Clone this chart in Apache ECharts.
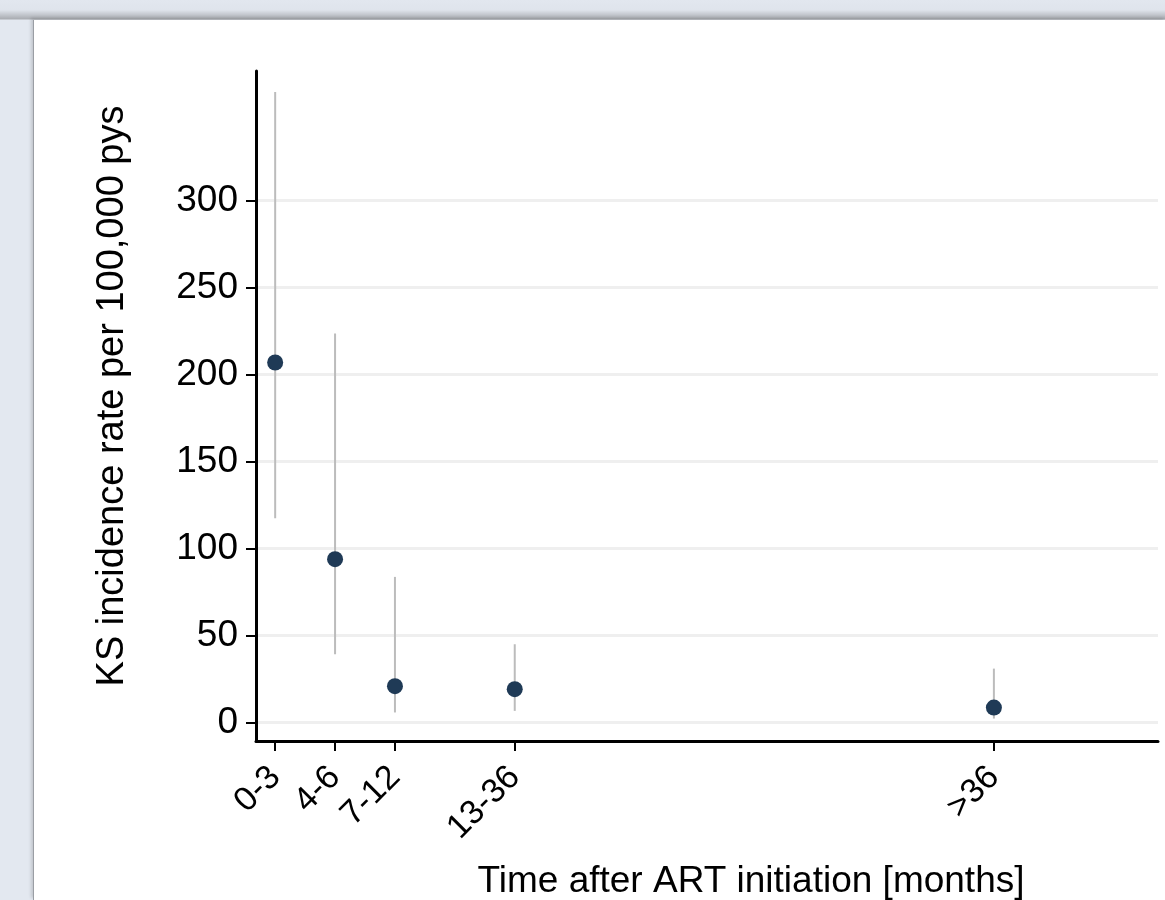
<!DOCTYPE html>
<html>
<head>
<meta charset="utf-8">
<script src="https://cdn.jsdelivr.net/npm/echarts@6/dist/echarts.min.js"></script>
<style>
  html, body { margin: 0; padding: 0; width: 1165px; height: 900px; overflow: hidden; }
  body { background: linear-gradient(to bottom, #e2e7ef 0px, #dfe4ec 10px, #a9acb1 19px, #e3e8f0 20px); }
  #frame { position: absolute; left: 33px; top: 20px; width: 1132px; height: 880px; background: #fff; border-left: 1px solid #9a9ea4; box-shadow: -2px -2px 3px rgba(0,0,0,0.15); }
  #chart { width: 1132px; height: 880px; }
</style>
</head>
<body>
<div id="frame"><div id="chart"></div></div>
<script>
  // periods after ART start and where they sit on the x axis
  var periods = ['0-3', '4-6', '7-12', '13-36', '>36']
  var xPos = [1, 2, 3, 5, 13]
  // KS incidence per 100,000 pys with 95% CI
  var rate = [207, 94, 21, 19.3, 8.7]
  var lower = [117.5, 39.4, 5.9, 6.8, 2.4]
  var upper = [362.5, 223.7, 83.8, 45.1, 31.1]
  var yTicks = [0, 50, 100, 150, 200, 250, 300]

  var font = 'Liberation Sans, Arial, sans-serif'
  var myChart = echarts.init(document.getElementById('chart'))

  var points = []
  var bars = []
  for (var i = 0; i < periods.length; i++) {
    points.push([xPos[i], rate[i]])
    bars.push([xPos[i], lower[i], upper[i]])
  }

  var option = {
    animation: false,
    grid: { left: 222, right: 8, top: 51, bottom: 159, outerBoundsMode: 'none', containLabel: false },
    xAxis: {
      type: 'value',
      min: 0.68,
      max: 15.74,
      name: 'Time after ART initiation [months]',
      nameLocation: 'middle',
      nameGap: 122,
      nameTextStyle: { fontFamily: font, fontSize: 37, color: '#000', padding: [0, 0, 0, 88] },
      axisLine: { onZero: false, lineStyle: { color: '#000', width: 3 } },
      axisTick: { customValues: xPos, length: 10, lineStyle: { color: '#000', width: 2 } },
      axisLabel: {
        customValues: xPos,
        rotate: 45,
        margin: 31,
        fontFamily: font,
        fontSize: 34,
        color: '#000',
        formatter: function (v) {
          var k = xPos.indexOf(v)
          return k >= 0 ? periods[k] : ''
        }
      },
      splitLine: { show: false }
    },
    yAxis: {
      type: 'value',
      min: -10.5,
      max: 374.5,
      name: 'KS incidence rate per 100,000 pys',
      nameLocation: 'middle',
      nameGap: 124,
      nameTextStyle: { fontFamily: font, fontSize: 38, color: '#000', padding: [0, 0, 0, 20] },
      axisLine: { show: true, onZero: false, lineStyle: { color: '#000', width: 3 } },
      axisTick: { show: true, customValues: yTicks, length: 10, lineStyle: { color: '#000', width: 2 } },
      axisLabel: { customValues: yTicks, margin: 18, fontFamily: font, fontSize: 37, color: '#000' },
      splitLine: { show: true, lineStyle: { color: '#efefef', width: 3 } }
    },
    series: [
      {
        type: 'custom',
        data: bars,
        z: 1,
        renderItem: function (params, api) {
          var a = api.coord([api.value(0), api.value(1)])
          var b = api.coord([api.value(0), api.value(2)])
          return {
            type: 'line',
            shape: { x1: a[0], y1: a[1], x2: b[0], y2: b[1] },
            style: { stroke: '#bcbcbc', lineWidth: 2 }
          }
        }
      },
      {
        type: 'scatter',
        data: points,
        z: 2,
        symbolSize: 16,
        itemStyle: { color: '#1f3a56', opacity: 1 }
      }
    ]
  }

  myChart.setOption(option)
</script>
</body>
</html>
